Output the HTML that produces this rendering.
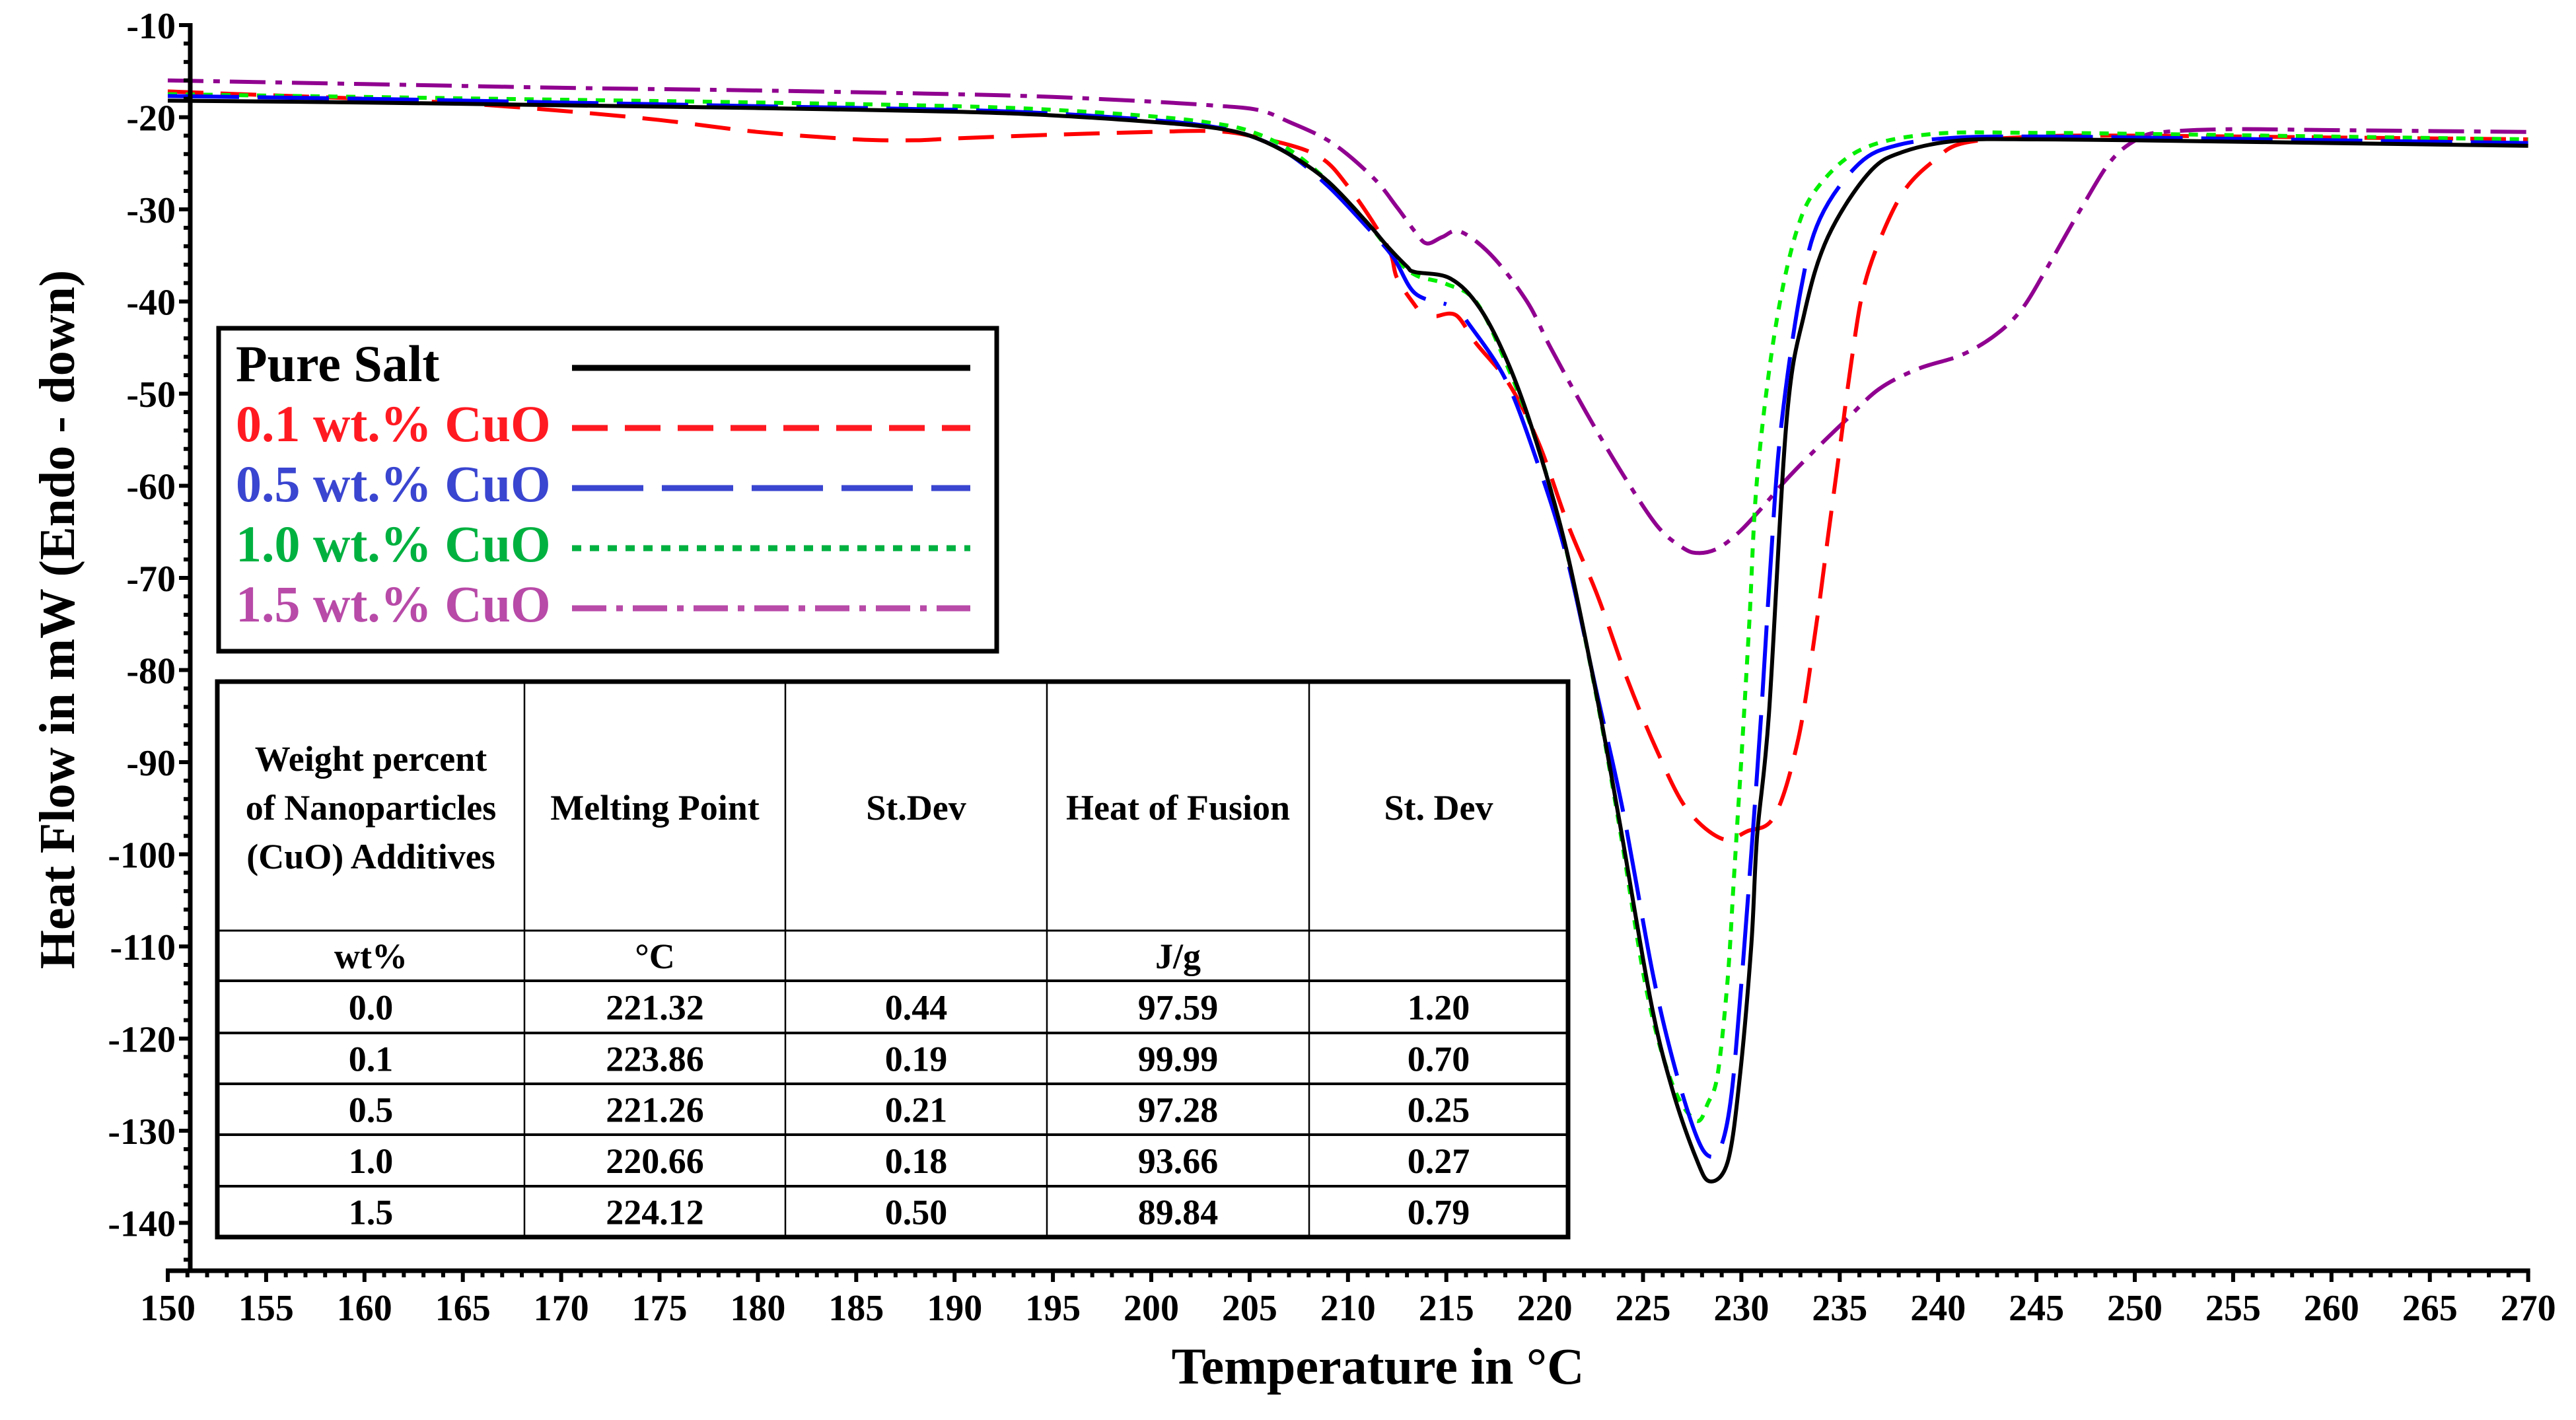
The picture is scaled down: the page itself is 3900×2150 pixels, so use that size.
<!DOCTYPE html>
<html><head><meta charset="utf-8"><style>
html,body{margin:0;padding:0;background:#fff;}
svg{display:block;}
text{font-family:"Liberation Serif",serif;font-weight:bold;}
</style></head><body>
<svg id="chart" xmlns="http://www.w3.org/2000/svg" width="3900" height="2150" viewBox="0 0 3900 2150">
<rect x="0" y="0" width="3900" height="2150" fill="#fff"/>
<g id="curves"></g>
<g id="axes"></g>
<text x="2086" y="2095" font-size="78" text-anchor="middle">Temperature in °C</text>
<text transform="translate(112,938) rotate(-90)" font-size="76" text-anchor="middle">Heat Flow in mW (Endo - down)</text>
<g id="legend"></g>
<g id="table"></g>
</svg>
<script>
// ---- data ----
const xTicks = [150,155,160,165,170,175,180,185,190,195,200,205,210,215,220,225,230,235,240,245,250,255,260,265,270];
const yTicks = [-10,-20,-30,-40,-50,-60,-70,-80,-90,-100,-110,-120,-130,-140];
const seriesNames = ["Pure Salt","0.1 wt.% CuO","0.5 wt.% CuO","1.0 wt.% CuO","1.5 wt.% CuO"];

const pureT = [150,160,170,180,190,195,200,203,205,207,209,211,212,213,213.4,215.2,216.7,218.2,219.6,221.1,222.6,223.8,225.4,226.5,227.7,228.4,229.3,229.9,230.5,230.8,231.4,232.3,233.2,234.4,236.5,238.3,241.2,245,250,260,270];
const pureV = [-18.2,-18.4,-18.7,-19,-19.4,-19.8,-20.5,-21.1,-22,-24,-27,-31.5,-34,-36.2,-36.8,-37.5,-40.7,-47,-55.4,-66.9,-82.3,-96.4,-116,-125.6,-133,-135.5,-133.4,-124.6,-110,-98,-84.8,-52.9,-41.3,-33,-26,-23.7,-22.5,-22.4,-22.5,-22.8,-23.1];

const redT = [150,155,160,165,170,175,180,185,188,190,195,200,203,205,208.3,210,212,212.5,213.5,null,214.5,215.5,216.5,218.2,219.7,221.2,222.7,224.2,225.7,227.2,229,230.3,231.7,232.9,233.8,234.4,235.0,235.6,236.2,237.1,238.3,239.8,241.3,245,250,260,270];
const redV = [-17.2,-17.6,-18,-18.5,-19.3,-20.3,-21.6,-22.4,-22.5,-22.3,-21.9,-21.6,-21.5,-22,-24,-27.5,-34,-37.5,-40.7,null,-41.6,-41.5,-44.5,-49,-55.4,-64.3,-72,-81,-88.7,-95,-98.3,-97.5,-95.8,-87.4,-75.2,-65.6,-56,-46.4,-38.7,-33,-27.9,-24.7,-22.8,-22.1,-22,-22.2,-22.4];

const blueT = [150,160,170,180,190,195,200,203,205,207,209,211,212.3,213.4,215,null,216,218,219.6,221.1,222.6,224,225.5,226.6,227.7,228.4,229,229.5,230,230.5,231,231.5,232,233,234,236,238,241,245,250,260,270];
const blueV = [-17.7,-18,-18.4,-18.8,-19.2,-19.6,-20.3,-21,-22,-24,-27.5,-32,-35.2,-39.1,-40.3,null,-42,-48.4,-57.3,-67.6,-82,-95.5,-113,-123,-130.5,-132.8,-131.5,-126,-114,-100,-85,-68,-54,-39,-31,-25,-23,-22.2,-22.1,-22.2,-22.5,-22.8];

const greenT = [150,160,170,180,190,195,200,203,205,207,209,211,212.5,213.5,215,216.5,218,219.6,221.1,222.6,223.8,225.2,226.5,227.7,228.3,228.8,229.3,229.6,229.8,230.0,230.4,230.8,231.7,232.8,234,236.2,239.8,245,250,260,270];
const greenV = [-17.5,-17.8,-18.1,-18.4,-18.8,-19.2,-19.9,-20.6,-21.5,-23.5,-27,-31.5,-35.5,-37.2,-38.1,-40,-46.5,-55.4,-67,-82.5,-97,-115,-125,-128.9,-127,-123.8,-113.6,-103.3,-96.4,-89.6,-75,-59.2,-43.3,-32.4,-27.3,-23.4,-21.8,-21.7,-21.8,-22.1,-22.4];

const purpleT = [150,160,170,180,190,195,200,203,205.4,207,209.2,211.3,212.5,213.4,214,214.8,215.7,217.3,219.1,220.3,222.1,223.9,225.7,227,227.8,228.8,229.9,231,232.3,233.8,235.3,237,239,241.2,243,244.3,245.5,247.3,248.8,250.2,251.5,255,260,270];
const purpleV = [-16,-16.4,-16.8,-17.1,-17.5,-17.8,-18.3,-18.7,-19.2,-20.5,-22.8,-26.6,-29.8,-32.4,-33.7,-33,-32.4,-35,-40,-45,-52,-58.5,-64.3,-66.7,-67.3,-66.8,-65,-62.5,-59.3,-56,-52.9,-49.5,-47.3,-45.8,-43.5,-40.7,-36.5,-29.8,-24.7,-22.3,-21.6,-21.3,-21.4,-21.6];

const tableHeaders = [["Weight percent","of Nanoparticles","(CuO) Additives"],["Melting Point"],["St.Dev"],["Heat of Fusion"],["St. Dev"]];
const tableUnits = ["wt%","°C","","J/g",""];
const tableRows = [
 ["0.0","221.32","0.44","97.59","1.20"],
 ["0.1","223.86","0.19","99.99","0.70"],
 ["0.5","221.26","0.21","97.28","0.25"],
 ["1.0","220.66","0.18","93.66","0.27"],
 ["1.5","224.12","0.50","89.84","0.79"]
];

// ---- scales ----
const X0=254, PXD=29.78, Y0=38, PXV=13.95;
function xs(t){return X0+(t-150)*PXD;}
function ys(v){return Y0+(-10-v)*PXV;}
const NS="http://www.w3.org/2000/svg";
function mk(tag,attrs,parent){const e=document.createElementNS(NS,tag);for(const k in attrs)e.setAttribute(k,attrs[k]);parent.appendChild(e);return e;}

function pathFor(T,V){
  let segs=[],cur=[];
  for(let i=0;i<T.length;i++){
    if(T[i]===null){if(cur.length)segs.push(cur);cur=[];continue;}
    cur.push([xs(T[i]),ys(V[i])]);
  }
  if(cur.length)segs.push(cur);
  let d="";
  segs.forEach(p=>{
    d+="M"+p[0][0].toFixed(1)+","+p[0][1].toFixed(1);
    for(let i=0;i<p.length-1;i++){
      const p0=p[i-1]||p[i],p1=p[i],p2=p[i+1],p3=p[i+2]||p[i+1];
      const c1=[p1[0]+(p2[0]-p0[0])/6,p1[1]+(p2[1]-p0[1])/6];
      const c2=[p2[0]-(p3[0]-p1[0])/6,p2[1]-(p3[1]-p1[1])/6];
      d+="C"+c1[0].toFixed(1)+","+c1[1].toFixed(1)+" "+c2[0].toFixed(1)+","+c2[1].toFixed(1)+" "+p2[0].toFixed(1)+","+p2[1].toFixed(1);
    }
  });
  return d;
}

const curves=document.getElementById('curves');
const defs=[
 {T:purpleT,V:purpleV,c:"#900090",dash:"54 15 10 15",n:"curve-1-5-wt-cuo"},
 {T:redT,V:redV,c:"#ff0000",dash:"54 26",n:"curve-0-1-wt-cuo"},
 {T:greenT,V:greenV,c:"#00ee00",dash:"14 13",n:"curve-1-0-wt-cuo"},
 {T:blueT,V:blueV,c:"#0000ff",dash:"108 28",n:"curve-0-5-wt-cuo"},
 {T:pureT,V:pureV,c:"#000000",dash:"none",n:"curve-pure-salt"}
];
defs.forEach(s=>{
  const p=mk('path',{d:pathFor(s.T,s.V),fill:"none",stroke:s.c,"stroke-width":6,"stroke-dasharray":s.dash},curves);
  
  
});

// ---- axes ----
const axes=document.getElementById('axes');
const xAxisY=1924, yAxisX=288;
let a=mk('line',{x1:X0-3,y1:xAxisY,x2:xs(270)+3,y2:xAxisY,stroke:"#000","stroke-width":7},axes);


a=mk('line',{x1:yAxisX,y1:Y0-3,x2:yAxisX,y2:xAxisY+3,stroke:"#000","stroke-width":7},axes);


for(let t=150;t<=270;t++){
  const major=(t%5===0);
  const l=mk('line',{x1:xs(t),y1:xAxisY,x2:xs(t),y2:xAxisY+(major?17:10),stroke:"#000","stroke-width":6},axes);
  
  
}
xTicks.forEach(t=>{
  const e=mk('text',{x:xs(t),y:1999,"font-size":56,"text-anchor":"middle"},axes);
  e.textContent=t;
  
  
});
for(let v=-10;v>=-144;v-=2){
  const major=(v%10===0);
  const l=mk('line',{x1:yAxisX,y1:ys(v),x2:yAxisX-(major?17:10),y2:ys(v),stroke:"#000","stroke-width":6},axes);
  
  
}
yTicks.forEach(v=>{
  const e=mk('text',{x:266,y:ys(v)+20,"font-size":56,"text-anchor":"end"},axes);
  e.textContent=v;
  
  
});

// ---- legend ----
const lg=document.getElementById('legend');
let r=mk('rect',{x:331,y:497,width:1178,height:489,fill:"#fff",stroke:"#000","stroke-width":7},lg);


const legCols=["#000000","#ff1a22","#3a45d0","#00b140","#b84aa8"];
const legDash=["none","54 26","108 28","14 13","52 15 10 15"];
seriesNames.forEach((n,i)=>{
  const by=577+i*91;
  const t=mk('text',{x:357,y:by,"font-size":78,fill:legCols[i]},lg);
  t.textContent=n;
  
  
  const l=mk('line',{x1:866,y1:by-20,x2:1469,y2:by-20,stroke:legCols[i],"stroke-width":9,"stroke-dasharray":legDash[i]},lg);
  
  
});

// ---- table ----
const tb=document.getElementById('table');
const tL=329,tR=2374,tT=1032,tB=1873;
const colX=[tL,794,1189,1585,1982,tR];
const rowY=[tT,1409,1485,1564,1641,1718,1796,tB];
r=mk('rect',{x:tL,y:tT,width:tR-tL,height:tB-tT,fill:"#fff",stroke:"#000","stroke-width":7},tb);


for(let i=1;i<colX.length-1;i++){
  const l=mk('line',{x1:colX[i],y1:tT,x2:colX[i],y2:tB,stroke:"#000","stroke-width":2.5},tb);
  
  
}
for(let i=1;i<rowY.length-1;i++){
  const l=mk('line',{x1:tL,y1:rowY[i],x2:tR,y2:rowY[i],stroke:"#000","stroke-width":i===1?3:4},tb);
  
  
}
const cx=i=>(colX[i]+colX[i+1])/2;
tableHeaders.forEach((lines,i)=>{
  lines.forEach((s,j)=>{
    const y=lines.length===1?1241:1167+j*74;
    const t=mk('text',{x:cx(i),y:y,"font-size":54,"text-anchor":"middle"},tb);
    t.textContent=s;
    
    
  });
});
tableUnits.forEach((s,i)=>{
  if(!s)return;
  const t=mk('text',{x:cx(i),y:1466,"font-size":54,"text-anchor":"middle"},tb);
  t.textContent=s;
  
  
});
tableRows.forEach((row,ri)=>{
  const y=(rowY[ri+2]+rowY[ri+3])/2+19;
  row.forEach((s,i)=>{
    const t=mk('text',{x:cx(i),y:y,"font-size":54,"text-anchor":"middle"},tb);
    t.textContent=s;
    
    
  });
});
</script>
</body></html>
